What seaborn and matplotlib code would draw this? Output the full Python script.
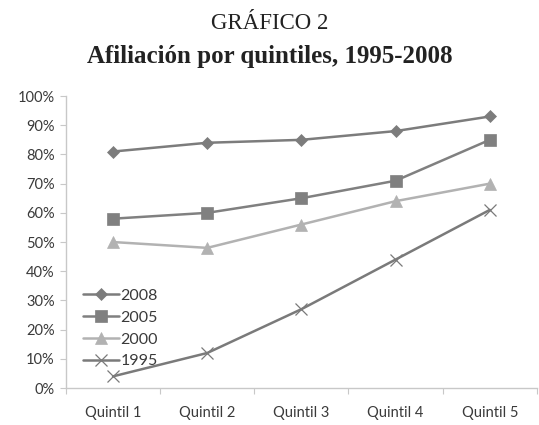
import matplotlib
matplotlib.use("Agg")
import matplotlib.pyplot as plt
import seaborn as sns
import pandas as pd
from matplotlib.lines import Line2D
from matplotlib.ticker import FixedLocator, FuncFormatter

quintiles = ["Quintil 1", "Quintil 2", "Quintil 3", "Quintil 4", "Quintil 5"]
years = ["2008", "2005", "2000", "1995"]
v2008 = [81, 84, 85, 88, 93]
v2005 = [58, 60, 65, 71, 85]
v2000 = [50, 48, 56, 64, 70]
v1995 = [4, 12, 27, 44, 61]
series = {"2008": v2008, "2005": v2005, "2000": v2000, "1995": v1995}

styles = {
    "2008": dict(color="#7c7c7c", marker="D", ms=6.0, mew=0.5),
    "2005": dict(color="#808080", marker="s", ms=8.0, mew=0.5),
    "2000": dict(color="#b2b2b2", marker="^", ms=8.0, mew=0.5),
    "1995": dict(color="#7a7a7a", marker="x", ms=8.0, mew=0.9),
}

rows = []
for y in years:
    for i, v in enumerate(series[y]):
        rows.append({"pos": i, "value": v, "year": y})
df = pd.DataFrame(rows)

sns.set_style("white")
plt.rcParams["font.family"] = ["Lato", "DejaVu Sans"]

fig = plt.figure(figsize=(5.39, 4.25), dpi=100)
ax = fig.add_axes([0.1224, 0.087, 0.8736, 0.687])

for y in years:
    st = styles[y]
    sub = df[df["year"] == y]
    sns.lineplot(data=sub, x="pos", y="value", ax=ax, color=st["color"],
                 linewidth=1.8, marker=st["marker"], markersize=st["ms"],
                 markeredgewidth=st["mew"], markeredgecolor=st["color"],
                 estimator=None, legend=False)

ax.set_xlim(-0.5, 4.5)
ax.set_ylim(0, 100)
ax.set_xlabel("")
ax.set_ylabel("")

ax.yaxis.set_major_locator(FixedLocator(range(0, 101, 10)))
ax.yaxis.set_major_formatter(FuncFormatter(lambda v, p: f"{int(v)}%"))
ax.set_xticks(range(5))
ax.set_xticklabels(quintiles)
ax.set_xticks([k - 0.5 for k in range(6)], minor=True)

for s in ["top", "right"]:
    ax.spines[s].set_visible(False)
for s in ["left", "bottom"]:
    ax.spines[s].set_color("#c8c8c8")
    ax.spines[s].set_linewidth(1.0)

ax.tick_params(axis="y", which="major", length=4, width=0.8, color="#c8c8c8",
               labelsize=10.5, labelcolor="#3a3a3a", pad=4, left=True)
ax.tick_params(axis="x", which="major", length=0, labelsize=10.5,
               labelcolor="#3a3a3a", pad=13)
ax.tick_params(axis="x", which="minor", length=4, width=0.8, color="#c8c8c8",
               bottom=True)

handles = []
for y in years:
    st = styles[y]
    handles.append(Line2D([], [], color=st["color"], linewidth=1.8,
                          marker=st["marker"], markersize=st["ms"],
                          markeredgewidth=st["mew"], markeredgecolor=st["color"]))
leg = ax.legend(handles, years, loc="upper left", bbox_to_anchor=(0.022, 0.362),
                frameon=False, fontsize=11.5, handlelength=2.3, handletextpad=0.05,
                labelspacing=0.48, borderaxespad=0)
for t in leg.get_texts():
    t.set_color("#3a3a3a")

fig.text(0.5, 0.945, "GRÁFICO 2", ha="center", va="center",
         family=["Liberation Serif", "DejaVu Serif"], fontsize=16.5, color="#222222")
fig.text(0.5, 0.868, "Afiliación por quintiles, 1995-2008", ha="center", va="center",
         family=["Liberation Serif", "DejaVu Serif"], fontsize=18,
         fontweight="bold", color="#222222")

fig.savefig("out.png", dpi=100)
